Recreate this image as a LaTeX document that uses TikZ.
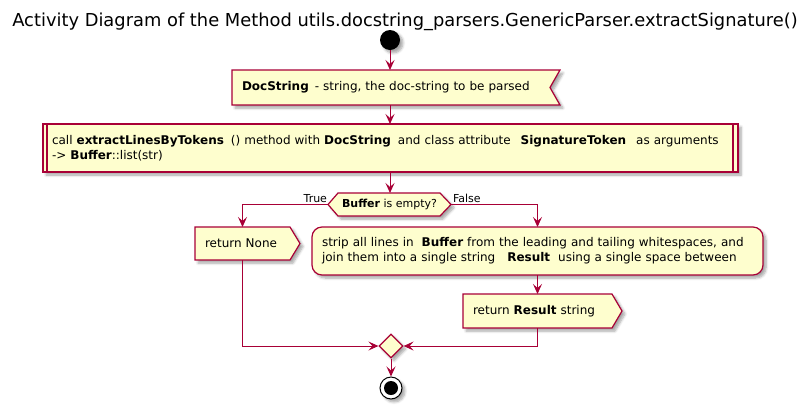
\documentclass[tikz,border=0pt]{standalone}
\usepackage{fontspec}
\setmainfont{DejaVu Sans}
\usetikzlibrary{arrows.meta,shapes.geometric,shadows.blur}
\definecolor{umlred}{HTML}{A80036}
\definecolor{umlfill}{HTML}{FEFECE}
\pgfdeclarelayer{bg}
\pgfsetlayers{bg,main}
\tikzset{
  shadowed/.style={blur shadow={shadow xshift=3pt, shadow yshift=-3pt, shadow blur steps=6, shadow blur radius=2.5pt, shadow opacity=35}},
  shapeline/.style={draw=umlred, fill=umlfill, line width=1.2pt, shadowed},
  holder/.style={inner ysep=0pt, outer sep=0pt, align=left, font=\fontsize{12}{15}\selectfont},
  arr/.style={draw=umlred, line width=1pt, -{Stealth[length=10pt,width=9pt,inset=4pt]}},
  lbl/.style={font=\fontsize{11}{13}\selectfont, inner sep=0pt, outer sep=0pt},
}
\begin{document}
\begin{tikzpicture}[x=1pt,y=-1pt]
\useasboundingbox (0,0) rectangle (803,408);
\node[font=\fontsize{17.85}{22}\selectfont, inner sep=0pt] (title) at (405,22) {Activity Diagram of the Method utils.docstring\_parsers.GenericParser.extractSignature()};

\node[circle, fill=black, minimum size=20pt, inner sep=0pt, shadowed] (start) at (390,40) {};

\node[holder, text width=308pt, inner xsep=10pt, minimum height=35pt] (b1) at (396,87.5)
  {\mbox{\textbf{DocString}\ \,- string, the doc-string to be parsed}};

\node[holder, text width=677pt, inner xsep=9pt, minimum height=48pt] (b2) at (390.5,148)
  {\mbox{call \textbf{extractLinesByTokens}\hspace{7pt}() method with \textbf{DocString}\hspace{7pt}and class attribute\hspace{10pt}\textbf{SignatureToken}\hspace{10pt}as arguments}\\
   \mbox{-> \textbf{Buffer}::list(str)}};

\node[lbl, minimum width=123pt, minimum height=23pt] (d1) at (389.5,204.5) {\textbf{Buffer}\ is empty?};
\node[lbl, anchor=base east] (tl) at (327,202) {True};
\node[lbl, anchor=base west] (fl) at (453,202) {False};

\node[holder, text width=75pt, inner xsep=10pt, minimum height=33pt] (r1) at (242.5,243.5) {\mbox{return None}};

\node[holder, text width=431pt, inner xsep=10pt, minimum height=48pt] (s1) at (537.5,251)
  {\mbox{strip all lines in\ \ \textbf{Buffer} from the leading and tailing whitespaces, and}\\
   \mbox{join them into a single string\ \ \ \textbf{Result}\ \ using a single space between}};

\node[holder, text width=129pt, inner xsep=10pt, minimum height=34pt] (r2) at (537.5,311) {\mbox{return \textbf{Result}\ string}};

\node[diamond, minimum width=24pt, minimum height=24pt, inner sep=0pt, shapeline] (m) at (391,346) {};

\node[circle, draw=black, fill=white, line width=1pt, minimum size=22pt, inner sep=0pt, shadowed,
  path picture={\fill[black] (path picture bounding box.center) circle (7pt);}] (end) at (391,388) {};

\begin{pgfonlayer}{bg}
  \path[shapeline] (b1.north west) -- (b1.north east) -- ([xshift=-10pt]b1.east) -- (b1.south east) -- (b1.south west) -- cycle;
  \path[shapeline] (b2.north west) rectangle (b2.south east);
  \draw[umlred, line width=1.2pt] ([xshift=4pt]b2.north west) -- ([xshift=4pt]b2.south west);
  \draw[umlred, line width=1.2pt] ([xshift=-5pt]b2.north east) -- ([xshift=-5pt]b2.south east);
  \path[shapeline] (d1.west) -- ([xshift=10pt]d1.north west) -- ([xshift=-11pt]d1.north east) -- (d1.east) -- ([xshift=-11pt]d1.south east) -- ([xshift=10pt]d1.south west) -- cycle;
  \path[shapeline] (r1.north west) -- (r1.north east) -- ([xshift=10pt]r1.east) -- (r1.south east) -- (r1.south west) -- cycle;
  \path[shapeline, rounded corners=10pt] (s1.north west) rectangle (s1.south east);
  \path[shapeline] (r2.north west) -- (r2.north east) -- ([xshift=10pt]r2.east) -- (r2.south east) -- (r2.south west) -- cycle;
\end{pgfonlayer}

\draw[arr] (start.south) -- (start.south |- b1.north);
\draw[arr] (start.south |- b1.south) -- (start.south |- b2.north);
\draw[arr] (start.south |- b2.south) -- (start.south |- d1.north);
\draw[arr] (d1.west) -| (r1.north);
\draw[arr] (d1.east) -| (s1.north);
\draw[arr] (s1.south) -- (r2.north);
\draw[arr] (r1.south) |- (m.west);
\draw[arr] (r2.south) |- (m.east);
\draw[arr] (m.south) -- (end.north);
\end{tikzpicture}
\end{document}
